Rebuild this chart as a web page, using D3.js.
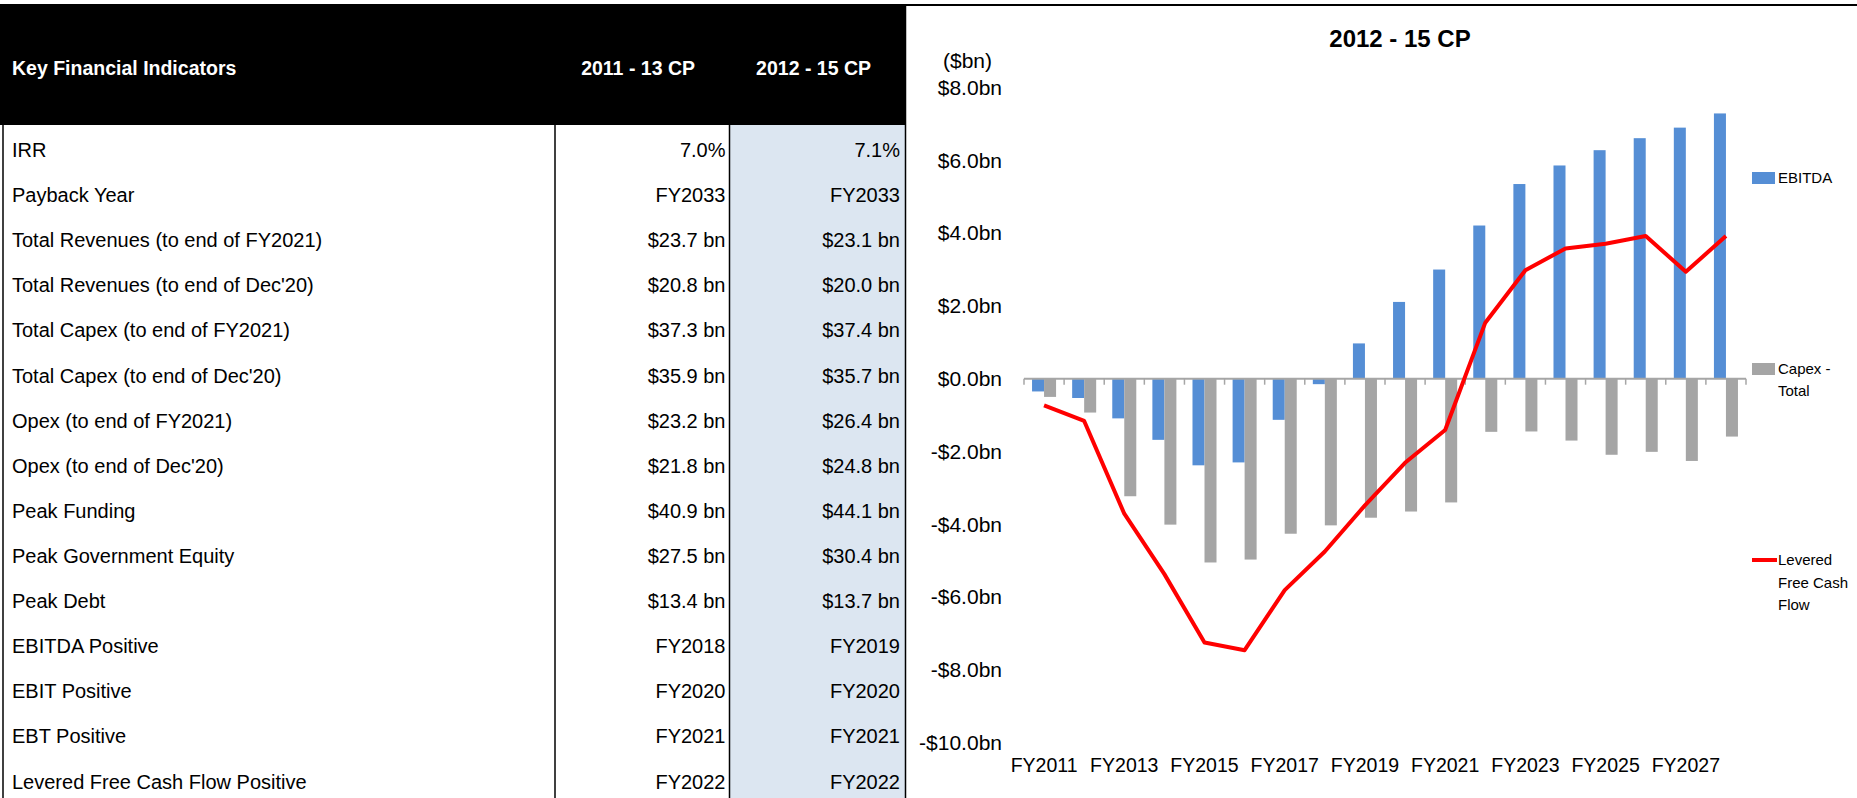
<!DOCTYPE html>
<html>
<head>
<meta charset="utf-8">
<script src="https://d3js.org/d3.v7.min.js"></script>
<style>
    body { margin: 0; background: #fff; }
    svg { display: block; font-family: "Liberation Sans", Arial, sans-serif; }
</style>
</head>
<body>
<div id="chart-area"></div>
<script>
// Table data
var indicators = ["IRR", "Payback Year", "Total Revenues (to end of FY2021)", "Total Revenues (to end of Dec'20)",
    "Total Capex (to end of FY2021)", "Total Capex (to end of Dec'20)", "Opex (to end of FY2021)",
    "Opex (to end of Dec'20)", "Peak Funding", "Peak Government Equity", "Peak Debt",
    "EBITDA Positive", "EBIT Positive", "EBT Positive", "Levered Free Cash Flow Positive"];
var cp2011 = ["7.0%", "FY2033", "$23.7 bn", "$20.8 bn", "$37.3 bn", "$35.9 bn", "$23.2 bn", "$21.8 bn",
    "$40.9 bn", "$27.5 bn", "$13.4 bn", "FY2018", "FY2020", "FY2021", "FY2022"];
var cp2012 = ["7.1%", "FY2033", "$23.1 bn", "$20.0 bn", "$37.4 bn", "$35.7 bn", "$26.4 bn", "$24.8 bn",
    "$44.1 bn", "$30.4 bn", "$13.7 bn", "FY2019", "FY2020", "FY2021", "FY2022"];
var tableHeaders = ["Key Financial Indicators", "2011 - 13 CP", "2012 - 15 CP"];

// Chart data ($bn)
var years = ["FY2011", "FY2012", "FY2013", "FY2014", "FY2015", "FY2016", "FY2017", "FY2018", "FY2019",
    "FY2020", "FY2021", "FY2022", "FY2023", "FY2024", "FY2025", "FY2026", "FY2027", "FY2028"];
var ebitda = [-0.35, -0.53, -1.09, -1.68, -2.38, -2.30, -1.13, -0.15, 0.97, 2.11, 3.0, 4.21, 5.35, 5.86, 6.28, 6.61, 6.90, 7.29];
var capex = [-0.50, -0.93, -3.23, -4.01, -5.05, -4.97, -4.26, -4.03, -3.82, -3.65, -3.40, -1.46, -1.45, -1.70, -2.09, -2.01, -2.26, -1.59];
var leveredFcf = [-0.73, -1.16, -3.71, -5.37, -7.25, -7.46, -5.81, -4.75, -3.48, -2.31, -1.41, 1.54, 2.98, 3.58, 3.71, 3.92, 2.94, 3.92];
var yTicks = [8, 6, 4, 2, 0, -2, -4, -6, -8, -10];
var seriesNames = ["EBITDA", "Capex - Total", "Levered Free Cash Flow"];

var colors = { ebitda: "#558ed5", capex: "#a5a5a5", fcf: "#ff0000" };

var svg = d3.select("#chart-area").append("svg")
    .attr("width", 1857)
    .attr("height", 798);

// ---------- Table ----------
var colLeft = 0, col1 = 555, col2 = 729.5, colRight = 905;
var headerTop = 5, headerBottom = 125;

svg.append("rect")
    .attr("x", col2).attr("y", headerBottom)
    .attr("width", colRight - col2).attr("height", 798 - headerBottom)
    .attr("fill", "#dce6f1");

svg.append("rect")
    .attr("x", colLeft).attr("y", headerTop)
    .attr("width", colRight).attr("height", headerBottom - headerTop)
    .attr("fill", "#000");

[3, col1, col2].forEach(function(x) {
    svg.append("line")
        .attr("x1", x).attr("x2", x)
        .attr("y1", headerBottom).attr("y2", 798)
        .attr("stroke", "#000").attr("stroke-width", 1.5);
});

svg.append("text")
    .attr("x", 12).attr("y", 75)
    .attr("font-size", "19.5px").attr("font-weight", "bold").attr("fill", "#fff")
    .text(tableHeaders[0]);
svg.append("text")
    .attr("x", 695).attr("y", 75).attr("text-anchor", "end")
    .attr("font-size", "19.5px").attr("font-weight", "bold").attr("fill", "#fff")
    .text(tableHeaders[1]);
svg.append("text")
    .attr("x", 871).attr("y", 75).attr("text-anchor", "end")
    .attr("font-size", "19.5px").attr("font-weight", "bold").attr("fill", "#fff")
    .text(tableHeaders[2]);

var rowY = d3.scalePoint()
    .domain(indicators)
    .range([150, 781.5]);

var rows = svg.append("g").attr("class", "table-rows")
    .selectAll("g")
    .data(indicators)
    .enter()
    .append("g")
    .attr("transform", function(d) { return "translate(0," + rowY(d) + ")"; });

rows.append("text")
    .attr("x", 12).attr("dy", "0.35em")
    .attr("font-size", "20px").attr("fill", "#000")
    .text(function(d) { return d; });
rows.append("text")
    .attr("x", col2 - 4).attr("dy", "0.35em").attr("text-anchor", "end")
    .attr("font-size", "20px").attr("fill", "#000")
    .text(function(d, i) { return cp2011[i]; });
rows.append("text")
    .attr("x", colRight - 5).attr("dy", "0.35em").attr("text-anchor", "end")
    .attr("font-size", "20px").attr("fill", "#000")
    .text(function(d, i) { return cp2012[i]; });

// ---------- Chart frame ----------
svg.append("line")
    .attr("x1", 0).attr("x2", 1857).attr("y1", 5).attr("y2", 5)
    .attr("stroke", "#000").attr("stroke-width", 2);
svg.append("line")
    .attr("x1", 905.5).attr("x2", 905.5).attr("y1", 5).attr("y2", 798)
    .attr("stroke", "#000").attr("stroke-width", 1.5);

svg.append("text")
    .attr("x", 1400).attr("y", 47).attr("text-anchor", "middle")
    .attr("font-size", "24px").attr("font-weight", "bold")
    .text("2012 - 15 CP");

svg.append("text")
    .attr("x", 992).attr("y", 61).attr("dy", "0.35em").attr("text-anchor", "end")
    .attr("font-size", "21px")
    .text("($bn)");

// Scales
var x = d3.scaleBand()
    .domain(years)
    .range([1024, 1746])
    .padding(0);

var xSub = d3.scaleBand()
    .domain(["ebitda", "capex"])
    .range([0, x.bandwidth()])
    .paddingInner(0)
    .paddingOuter(0.67);

var y = d3.scaleLinear()
    .domain([-10, 8])
    .range([742.6, 87.6]);

// Y axis labels
var yAxis = d3.axisLeft(y)
    .tickValues(yTicks)
    .tickSize(0)
    .tickPadding(8)
    .tickFormat(function(d) {
        return (d < 0 ? "-" : "") + "$" + Math.abs(d).toFixed(1) + "bn";
    });

svg.append("g")
    .attr("class", "y-axis")
    .attr("transform", "translate(1010,0)")
    .call(yAxis)
    .call(function(g) { g.select(".domain").remove(); })
    .selectAll("text")
    .attr("font-size", "21px")
    .attr("font-family", "Liberation Sans, Arial, sans-serif")
    .attr("fill", "#000");

// Bars
var bars = svg.append("g").attr("class", "bars");

bars.selectAll("rect.ebitda")
    .data(ebitda)
    .enter()
    .append("rect")
    .attr("class", "ebitda")
    .attr("x", function(d, i) { return x(years[i]) + xSub("ebitda"); })
    .attr("width", xSub.bandwidth())
    .attr("y", function(d) { return y(Math.max(0, d)); })
    .attr("height", function(d) { return Math.abs(y(d) - y(0)); })
    .attr("fill", colors.ebitda);

bars.selectAll("rect.capex")
    .data(capex)
    .enter()
    .append("rect")
    .attr("class", "capex")
    .attr("x", function(d, i) { return x(years[i]) + xSub("capex"); })
    .attr("width", xSub.bandwidth())
    .attr("y", function(d) { return y(Math.max(0, d)); })
    .attr("height", function(d) { return Math.abs(y(d) - y(0)); })
    .attr("fill", colors.capex);

// Zero axis line with category ticks
var boundaries = years.map(function(d) { return x(d); }).concat([x.range()[1]]);
svg.append("line")
    .attr("x1", x.range()[0]).attr("x2", x.range()[1])
    .attr("y1", y(0)).attr("y2", y(0))
    .attr("stroke", "#a6a6a6").attr("stroke-width", 2);
svg.append("g").selectAll("line")
    .data(boundaries)
    .enter()
    .append("line")
    .attr("x1", function(d) { return d; }).attr("x2", function(d) { return d; })
    .attr("y1", y(0)).attr("y2", y(0) + 6)
    .attr("stroke", "#a6a6a6").attr("stroke-width", 1.5);

// Line
var line = d3.line()
    .x(function(d, i) { return x(years[i]) + x.bandwidth() / 2; })
    .y(function(d) { return y(d); });

svg.append("path")
    .datum(leveredFcf)
    .attr("d", line)
    .attr("fill", "none")
    .attr("stroke", colors.fcf)
    .attr("stroke-width", 4)
    .attr("stroke-linejoin", "round");

// X axis labels (every other year, at the bottom)
var xAxis = d3.axisBottom(x)
    .tickValues(years.filter(function(d, i) { return i % 2 === 0; }))
    .tickSize(0)
    .tickPadding(8);

svg.append("g")
    .attr("class", "x-axis")
    .attr("transform", "translate(0,750)")
    .call(xAxis)
    .call(function(g) { g.select(".domain").remove(); })
    .selectAll("text")
    .attr("font-size", "19.5px")
    .attr("font-family", "Liberation Sans, Arial, sans-serif")
    .attr("fill", "#000");

// Legend
var legend = svg.append("g").attr("class", "legend").attr("font-size", "15px");

legend.append("rect")
    .attr("x", 1752).attr("y", 172).attr("width", 23).attr("height", 12)
    .attr("fill", colors.ebitda);
legend.append("text")
    .attr("x", 1778).attr("y", 178).attr("dy", "0.35em")
    .text(seriesNames[0]);

legend.append("rect")
    .attr("x", 1752).attr("y", 363).attr("width", 23).attr("height", 12)
    .attr("fill", colors.capex);
legend.append("text")
    .attr("x", 1778).attr("y", 369).attr("dy", "0.35em")
    .selectAll("tspan")
    .data(["Capex -", "Total"])
    .enter()
    .append("tspan")
    .attr("x", 1778)
    .attr("dy", function(d, i) { return i === 0 ? "0.35em" : 22; })
    .text(function(d) { return d; });

legend.append("line")
    .attr("x1", 1752).attr("x2", 1777).attr("y1", 560).attr("y2", 560)
    .attr("stroke", colors.fcf).attr("stroke-width", 4);
legend.append("text")
    .attr("x", 1778).attr("y", 560)
    .selectAll("tspan")
    .data(["Levered", "Free Cash", "Flow"])
    .enter()
    .append("tspan")
    .attr("x", 1778)
    .attr("dy", function(d, i) { return i === 0 ? "0.35em" : 22.5; })
    .text(function(d) { return d; });
</script>
</body>
</html>
